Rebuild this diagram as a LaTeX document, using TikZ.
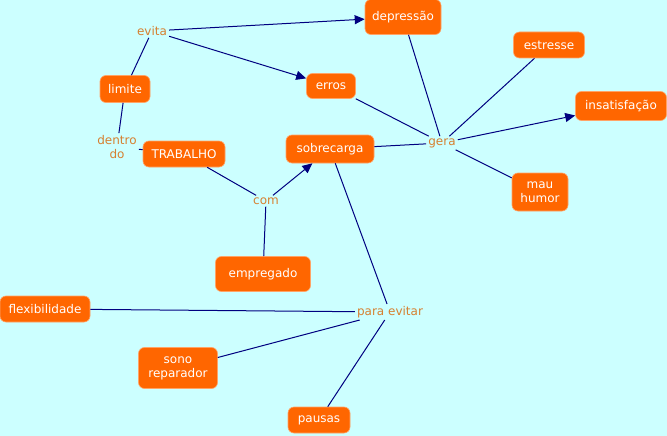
\documentclass[tikz,border=0pt]{standalone}
\usepackage{fontspec}
\setmainfont{DejaVu Sans}
\usetikzlibrary{arrows.meta}
\definecolor{fundo}{RGB}{204,255,255}
\definecolor{laranja}{RGB}{255,102,0}
\definecolor{ligacao}{RGB}{214,128,48}
\definecolor{linha}{RGB}{0,0,128}
\begin{document}
\begin{tikzpicture}[x=1pt, y=-1pt,
		conceito/.style={fill=laranja, draw=laranja!60!white, line width=0.6pt, rounded corners=6pt, text=white, align=center, inner sep=0pt, font=\fontsize{12}{14}\selectfont},
		frase/.style={text=ligacao, align=center, inner sep=2pt, font=\fontsize{12}{14}\selectfont},
		liga/.style={draw=linha, line width=1pt},
		seta/.style={liga, -{Triangle[length=10pt, width=9pt]}}]
		% Background
		\fill[fundo] (0, 0) rectangle (667, 436);
		\useasboundingbox (0, 0) rectangle (667, 436);
		
		% Concepts
		\node[conceito, minimum width=76, minimum height=35] (depressao) at (403, 17) {depressão};
		\node[conceito, minimum width=50, minimum height=27] (limite) at (125, 89) {limite};
		\node[conceito, minimum width=49, minimum height=25] (erros) at (331, 86) {erros};
		\node[conceito, minimum width=71, minimum height=26] (estresse) at (549, 45) {estresse};
		\node[conceito, minimum width=91, minimum height=29] (insatisfacao) at (621, 106) {insatisfação};
		\node[conceito, minimum width=88, minimum height=28] (sobrecarga) at (330, 149) {sobrecarga};
		\node[conceito, minimum width=82, minimum height=26] (trabalho) at (184, 154) {TRABALHO};
		\node[conceito, minimum width=56, minimum height=38] (mauhumor) at (540, 192) {mau\\humor};
		\node[conceito, minimum width=95, minimum height=35] (empregado) at (263, 274) {empregado};
		\node[conceito, minimum width=90, minimum height=26] (flexibilidade) at (45, 309) {flexibilidade};
		\node[conceito, minimum width=79, minimum height=41] (sono) at (178, 368) {sono\\reparador};
		\node[conceito, minimum width=62, minimum height=26] (pausas) at (319, 420) {pausas};
		
		% Linking phrases
		\node[frase] (evita) at (152, 31) {evita};
		\node[frase] (dentro) at (117, 147) {dentro\\do};
		\node[frase] (gera) at (442, 143) {gera};
		\node[frase] (com) at (266, 201) {com};
		\node[frase] (paraevitar) at (390, 312) {para evitar};
		
		% Connections (top)
		\draw[seta] (evita) -- (depressao);
		\draw[seta] (evita) -- (erros);
		\draw[liga] (limite) -- (evita);
		\draw[liga] (limite) -- (dentro);
		\draw[liga] (dentro) -- (trabalho);
		
		% Connections (com)
		\draw[liga] (trabalho) -- (com);
		\draw[liga] (empregado) -- (com);
		\draw[seta] (com) -- (sobrecarga);
		
		% Connections (gera)
		\draw[liga] (erros) -- (gera);
		\draw[liga] (depressao) -- (gera);
		\draw[liga] (estresse) -- (gera);
		\draw[liga] (sobrecarga) -- (gera);
		\draw[seta] (gera) -- (insatisfacao);
		\draw[liga] (gera) -- (mauhumor);
		
		% Connections (para evitar)
		\draw[liga] (sobrecarga) -- (paraevitar);
		\draw[liga] (paraevitar) -- (flexibilidade);
		\draw[liga] (paraevitar) -- (sono);
		\draw[liga] (paraevitar) -- (pausas);
	\end{tikzpicture}
\end{document}
